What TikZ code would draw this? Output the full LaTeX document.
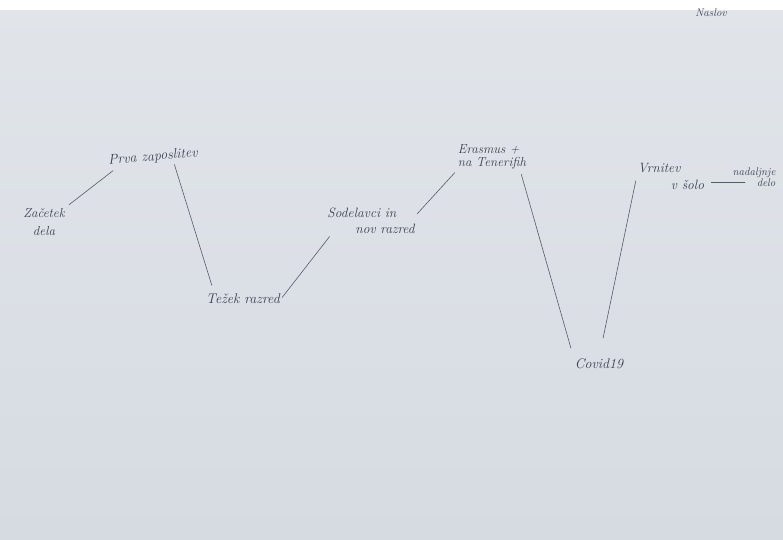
\documentclass[tikz,border=0pt]{standalone}
\usetikzlibrary{calc}
\definecolor{papertop}{HTML}{E1E5EA}
\definecolor{paperbot}{HTML}{D6DBE2}
\definecolor{ink}{HTML}{383F50}
\definecolor{pen}{HTML}{555B68}
\tikzset{
  lbl/.style={text=ink, inner sep=1pt, font=\itshape\fontsize{13}{17}\selectfont},
  small/.style={lbl, font=\itshape\fontsize{11}{11}\selectfont},
  link/.style={draw=pen, line width=0.6pt, line cap=round}
}
\begin{document}
\begin{tikzpicture}[x=1pt,y=-1pt]
\shade[top color=papertop, bottom color=paperbot] (0,0) rectangle (783,539);
\fill[white] (0,0) rectangle (783,10);
\useasboundingbox (0,0) rectangle (783,539);

\node[lbl, align=center, font=\itshape\fontsize{13}{18}\selectfont] (zac) at (44,222) {Začetek\\dela};
\node[lbl, font=\itshape\fontsize{14}{17}\selectfont, rotate=5] (prva) at (153,157) {Prva zaposlitev};
\node[lbl, font=\itshape\fontsize{14}{17}\selectfont] (tezek) at (243,299) {Težek razred};
\node[lbl, align=left, font=\itshape\fontsize{13.5}{16}\selectfont] (sod) at (371,221) {Sodelavci in\\\hspace{28pt}nov razred};
\node[lbl, align=left, font=\itshape\fontsize{13}{13}\selectfont] (era) at (492,157) {Erasmus +\\na Tenerifih};
\node[lbl, font=\itshape\fontsize{14}{17}\selectfont] (covid) at (599,364) {Covid19};
\node[lbl, align=left, font=\itshape\fontsize{13.5}{17}\selectfont] (vrn) at (671,176) {Vrnitev\\\hspace{33pt}v šolo};
\node[small, align=right] (nad) at (754,177) {nadaljnje\\delo};
\node[small] (nas) at (711,13) {Naslov};

\coordinate (v1) at ($(vrn.north east)!0.72!(vrn.south east)$);

\draw[link, shorten <=4pt, shorten >=5pt] (zac.north east) -- ($(prva.south west)!0.1!(prva.south east)$);
\draw[link, shorten <=2pt, shorten >=8pt] ($(prva.south west)!0.72!(prva.south east)$) -- ($(tezek.north west)!0.12!(tezek.north east)$);
\draw[link, shorten <=2pt, shorten >=2pt] (tezek.east) -- ($(sod.south west)!0.05!(sod.south east)$);
\draw[link, shorten <=2pt, shorten >=3pt] ($(sod.north east)!0.3!(sod.south east)$) -- (era.south west);
\draw[link, shorten <=4pt, shorten >=10pt] ($(era.south west)!0.9!(era.south east)$) -- (covid.north west);
\draw[link, shorten <=20pt, shorten >=5pt] (covid.north) -- ($(vrn.north west)!0.5!(vrn.south west)$);
\draw[link, shorten <=6pt, shorten >=9pt] (v1) -- (v1 -| nad.center);
\end{tikzpicture}
\end{document}
